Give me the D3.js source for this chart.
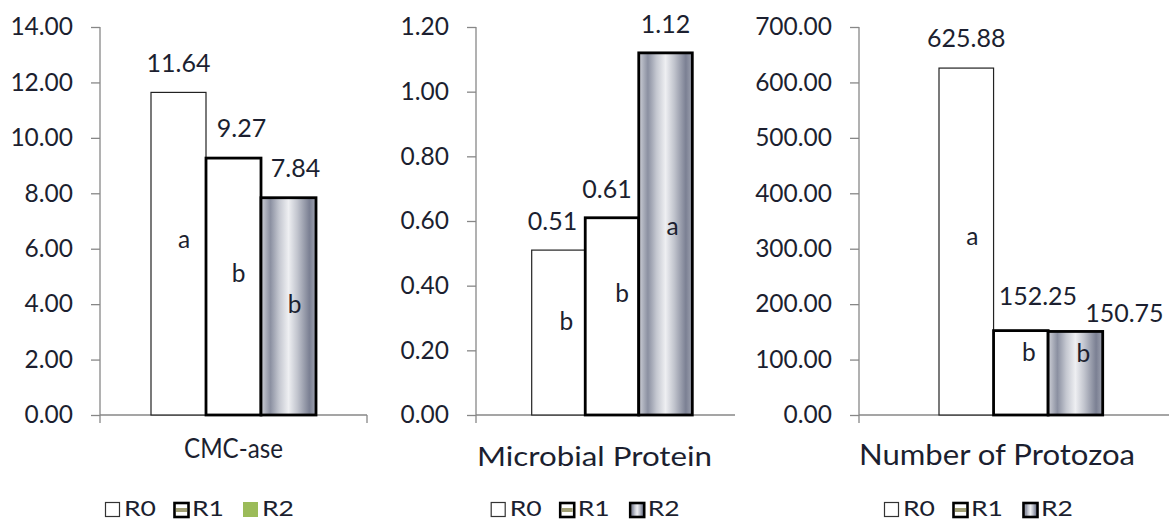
<!DOCTYPE html>
<html>
<head>
<meta charset="utf-8">
<script src="https://cdnjs.cloudflare.com/ajax/libs/d3/7.8.5/d3.min.js"></script>
<style>
  html, body { margin: 0; padding: 0; background: #fff; }
  svg { display: block; }
  text { font-family: Lato, "Open Sans", sans-serif; fill: #1c1f30; }
</style>
</head>
<body>
<svg id="chart" width="1169" height="521"></svg>
<script>
// ---- data ----
const categories = ["CMC-ase", "Microbial Protein", "Number of Protozoa"];
const seriesNames = ["R0", "R1", "R2"];
const cmcValues = [11.64, 9.27, 7.84];
const proteinValues = [0.51, 0.61, 1.12];
const protozoaValues = [625.88, 152.25, 150.75];
const cmcLetters = ["a", "b", "b"];
const proteinLetters = ["b", "b", "a"];
const protozoaLetters = ["a", "b", "b"];
const cmcTicks = [0, 2, 4, 6, 8, 10, 12, 14];
const proteinTicks = [0, 0.2, 0.4, 0.6, 0.8, 1.0, 1.2];
const protozoaTicks = [0, 100, 200, 300, 400, 500, 600, 700];

// ---- layout (positions / styles only) ----
const panels = [
  { cat: categories[0], values: cmcValues, letters: cmcLetters, ticks: cmcTicks,
    axisX: 100, axisRight: 367, groupL: 151, groupR: 316, rightTick: true,
    catX: 233.5, catY: 458, catSize: 26, catLen: 99, legendX: 105, legendR2: "green",
    valOff: [[0, 0], [8, -1], [7, -1]], letFrac: [0.517, 0.519, 0.468], letDx: [5.5, 5, 6] },
  { cat: categories[1], values: proteinValues, letters: proteinLetters, ticks: proteinTicks,
    axisX: 476, axisRight: 735, groupL: 531.7, groupR: 692.3, rightTick: false,
    catX: 594.5, catY: 465.5, catSize: 27.5, catLen: 235, legendX: 490.7, legendR2: "gradient",
    valOff: [[-6, 0], [-5, 0], [0, 0]], letFrac: [0.515, 0.575, 0.497], letDx: [8, 10, 7] },
  { cat: categories[2], values: protozoaValues, letters: protozoaLetters, ticks: protozoaTicks,
    axisX: 859, axisRight: 1180, groupL: 939, groupR: 1102.7, rightTick: false,
    catX: 997, catY: 465, catSize: 28, catLen: 276, legendX: 884, legendR2: "gradient",
    valOff: [[0, -1], [17, -6], [49, 11]], letFrac: [0.49, 0.643, 0.638], letDx: [6, 8, 8] }
];
const yTop = 27, yBottom = 415;
const axisColor = "#878787";
const fmt = d3.format(".2f");

const svg = d3.select("#chart");
const defs = svg.append("defs");
const grad = defs.append("linearGradient").attr("id", "barGrad")
  .attr("x1", "0%").attr("x2", "100%").attr("y1", "0%").attr("y2", "0%");
[[0, "#cfd1d8"], [0.17, "#8b90a1"], [0.33, "#c4c7d0"], [0.5, "#eeeff2"],
 [0.66, "#c2c5ce"], [0.88, "#7b8093"], [1, "#9fa3b1"]].forEach(([o, c]) =>
  grad.append("stop").attr("offset", o).attr("stop-color", c));

panels.forEach(p => {
  const g = svg.append("g");
  const y = d3.scaleLinear().domain([p.ticks[0], p.ticks[p.ticks.length - 1]]).range([yBottom, yTop]);
  const xOuter = d3.scaleBand().domain([p.cat]).range([p.axisX, p.axisRight]);
  const x = d3.scaleBand().domain(seriesNames).range([p.groupL, p.groupR]).padding(0);

  // y axis
  const ya = g.append("g").attr("transform", `translate(${p.axisX},0)`)
    .call(d3.axisLeft(y).tickValues(p.ticks).tickFormat(fmt).tickSize(9).tickPadding(18).tickSizeOuter(0));
  ya.select(".domain").remove();
  ya.selectAll(".tick line").attr("stroke", axisColor).attr("stroke-width", 1.3);
  ya.selectAll(".tick text").attr("font-size", 24.5).attr("font-family", "Lato").attr("fill", "#1c1f30");
  g.append("line").attr("x1", p.axisX).attr("x2", p.axisX).attr("y1", yTop).attr("y2", yBottom + 8)
    .attr("stroke", axisColor).attr("stroke-width", 1.3);
  // x axis
  g.append("line").attr("x1", xOuter.range()[0]).attr("x2", xOuter.range()[1])
    .attr("y1", y(0)).attr("y2", y(0)).attr("stroke", axisColor).attr("stroke-width", 1.3);
  if (p.rightTick) {
    g.append("line").attr("x1", p.axisRight).attr("x2", p.axisRight).attr("y1", y(0)).attr("y2", y(0) + 8)
      .attr("stroke", axisColor).attr("stroke-width", 1.3);
  }

  // bars
  const data = seriesNames.map((s, i) => ({ s, i, v: p.values[i], l: p.letters[i] }));
  g.selectAll("rect.bar").data(data).join("rect").attr("class", "bar")
    .attr("x", d => x(d.s)).attr("width", x.bandwidth())
    .attr("y", d => y(d.v)).attr("height", d => y(0) - y(d.v))
    .attr("fill", d => d.i === 2 ? "url(#barGrad)" : "#fff")
    .attr("stroke", d => d.i === 0 ? "#222" : "#000")
    .attr("stroke-width", d => d.i === 0 ? 1.2 : 2.8);

  // value labels
  g.selectAll("text.val").data(data).join("text").attr("class", "val")
    .attr("x", d => x(d.s) + x.bandwidth() / 2 + p.valOff[d.i][0])
    .attr("y", d => y(d.v) - 20 + p.valOff[d.i][1])
    .attr("text-anchor", "middle").attr("font-size", 25)
    .text(d => fmt(d.v));

  // significance letters
  g.selectAll("text.let").data(data).join("text").attr("class", "let")
    .attr("x", d => x(d.s) + x.bandwidth() / 2 + p.letDx[d.i])
    .attr("y", d => y(d.v * p.letFrac[d.i]))
    .attr("text-anchor", "middle").attr("font-size", 24.5)
    .text(d => d.l);

  // category label
  g.append("text").attr("x", p.catX).attr("y", p.catY).attr("text-anchor", "middle")
    .attr("font-size", p.catSize).attr("textLength", p.catLen).attr("lengthAdjust", "spacingAndGlyphs")
    .text(p.cat);

  // legend
  const lg = g.append("g").attr("transform", `translate(${p.legendX},502)`);
  const steps = [0, 68, 138];
  seriesNames.forEach((s, i) => {
    const li = lg.append("g").attr("transform", `translate(${steps[i]},0)`);
    if (i === 0) {
      li.append("rect").attr("x", 0.5).attr("y", 0.5).attr("width", 14).attr("height", 14)
        .attr("fill", "#fff").attr("stroke", "#333").attr("stroke-width", 1.2);
    } else if (i === 1) {
      li.append("rect").attr("x", 1.5).attr("y", 1).attr("width", 14).attr("height", 14)
        .attr("fill", "#fff").attr("stroke", "#000").attr("stroke-width", 2.6);
      li.append("rect").attr("x", 3).attr("y", 6).attr("width", 11).attr("height", 4).attr("fill", "#a19f74");
    } else if (p.legendR2 === "green") {
      li.append("rect").attr("x", 0).attr("y", 0).attr("width", 15).attr("height", 15).attr("fill", "#9bbb59");
    } else {
      li.append("rect").attr("x", 1.5).attr("y", 1).attr("width", 14).attr("height", 14)
        .attr("fill", "url(#barGrad)").attr("stroke", "#000").attr("stroke-width", 2.6);
    }
    li.append("text").attr("x", 19).attr("y", 14).attr("font-size", 20.5)
      .attr("textLength", 32).attr("lengthAdjust", "spacingAndGlyphs").text(s);
  });
});
</script>
</body>
</html>
